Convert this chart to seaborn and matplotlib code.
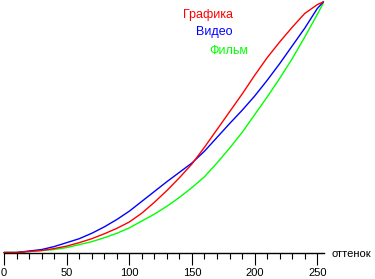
import matplotlib
matplotlib.use("Agg")
import matplotlib.pyplot as plt
import seaborn as sns
import pandas as pd
from matplotlib.ticker import MultipleLocator

# Data
x_vals = [0, 10, 20, 30, 40, 50, 60, 70, 80, 90, 100, 110, 120, 130, 140, 150,
          160, 170, 180, 190, 200, 210, 220, 230, 240, 250, 255]
grafika = [0, 0, 1, 2, 4, 6.5, 10, 14, 19, 24.5, 31, 40, 51, 63, 76, 90,
           107, 125, 143, 161, 180, 198, 214, 229, 243, 252, 255]
video = [0, 0, 1.5, 3, 6, 10, 14, 19.5, 26, 33.5, 42, 52, 62, 72, 81.5, 91,
         103, 117, 131, 144.5, 159, 175, 192, 210, 228, 248, 255]
film = [0, 0, 1, 2, 3, 5, 8, 11, 15, 19.5, 25, 32, 39, 47, 56, 66,
        77, 91, 106, 122, 140, 158, 177, 197, 219, 242, 254]
series_names = ["Графика", "Видео", "Фильм"]
series_colors = ["#ff0000", "#0000ff", "#00ff00"]
x_label = "оттенок"

sns.set_style("white")
plt.rcParams["font.family"] = ["Liberation Sans", "DejaVu Sans"]

W, H = 375, 279
fig = plt.figure(figsize=(W / 100, H / 100), dpi=100)
left = 4 / W
right = 323.5 / W
bottom = (H - 252.5) / H
top = (H - 1.7) / H
ax = fig.add_axes([left, bottom, right - left, top - bottom])

data = {"Графика": grafika, "Видео": video, "Фильм": film}
frames = []
for name in ["Фильм", "Видео", "Графика"]:
    frames.append(pd.DataFrame({"x": x_vals, "y": data[name], "s": name}))
df = pd.concat(frames, ignore_index=True)
palette = dict(zip(series_names, series_colors))
sns.lineplot(data=df, x="x", y="y", hue="s", palette=palette, ax=ax,
             linewidth=1.0, legend=False, clip_on=False,
             hue_order=["Фильм", "Видео", "Графика"])

ax.set_xlim(0, 255)
ax.set_ylim(0, 255)
for s in ["top", "right", "left"]:
    ax.spines[s].set_visible(False)
ax.spines["bottom"].set_linewidth(1.0)
ax.spines["bottom"].set_color("black")
ax.set_yticks([])
ax.xaxis.set_major_locator(MultipleLocator(50))
ax.xaxis.set_minor_locator(MultipleLocator(10))
ax.tick_params(axis="x", which="major", direction="out", length=8.6, width=0.8,
               color="black", pad=2.5, labelsize=8, labelcolor="black", bottom=True)
ax.tick_params(axis="x", which="minor", direction="out", length=4.3, width=0.8,
               color="black", bottom=True)
ax.set_xlabel("")
ax.set_ylabel("")
ax.patch.set_alpha(0)

fs = 9
fig.text(183 / W, (H - 15) / H, "Графика", color="#ff0000", fontsize=fs, va="center", ha="left")
fig.text(196 / W, (H - 32.5) / H, "Видео", color="#0000ff", fontsize=fs, va="center", ha="left")
fig.text(209 / W, (H - 51.5) / H, "Фильм", color="#00ff00", fontsize=fs, va="center", ha="left")
fig.text(332 / W, (H - 254) / H, x_label, color="black", fontsize=8, va="center", ha="left")

fig.savefig("out.png", dpi=100)
